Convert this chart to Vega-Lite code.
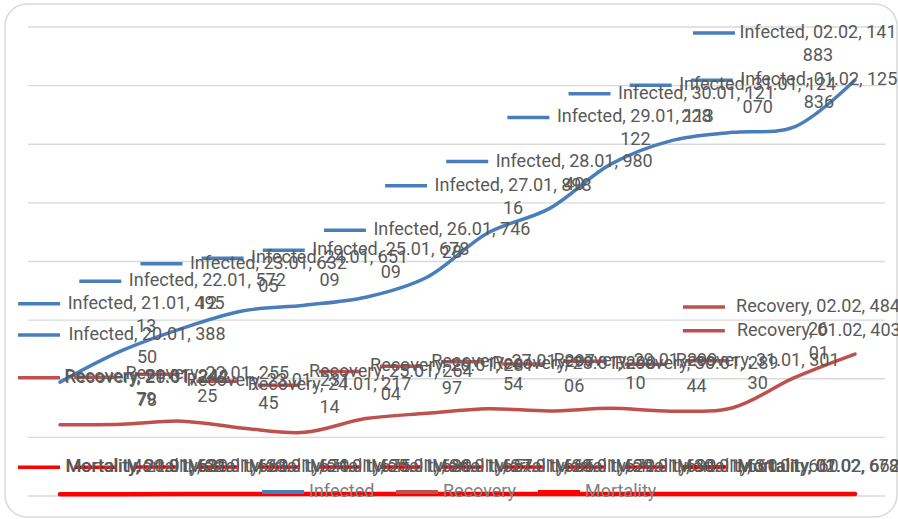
{
  "$schema": "https://vega.github.io/schema/vega-lite/v6.json",
  "width": 892,
  "height": 513,
  "autosize": {"type": "none"},
  "padding": {"left": 5, "top": 4, "right": 1, "bottom": 2},
  "background": "white",
  "config": {
    "view": {"stroke": "#d9d9d9", "strokeWidth": 1.5, "cornerRadius": 22, "fill": "white"},
    "font": "Roboto"
  },
  "datasets": {
    "main": [
      {"s": "Infected", "day": "20.01", "date": "2020-01-20", "v": 38850, "l1": "Infected, 20.01, 388", "l2": "50"},
      {"s": "Infected", "day": "21.01", "date": "2020-01-21", "v": 49513, "l1": "Infected, 21.01, 495", "l2": "13"},
      {"s": "Infected", "day": "22.01", "date": "2020-01-22", "v": 57212, "l1": "Infected, 22.01, 572", "l2": "12"},
      {"s": "Infected", "day": "23.01", "date": "2020-01-23", "v": 63205, "l1": "Infected, 23.01, 632", "l2": "05"},
      {"s": "Infected", "day": "24.01", "date": "2020-01-24", "v": 65109, "l1": "Infected, 24.01, 651", "l2": "09"},
      {"s": "Infected", "day": "25.01", "date": "2020-01-25", "v": 67809, "l1": "Infected, 25.01, 678", "l2": "09"},
      {"s": "Infected", "day": "26.01", "date": "2020-01-26", "v": 74628, "l1": "Infected, 26.01, 746", "l2": "28"},
      {"s": "Infected", "day": "27.01", "date": "2020-01-27", "v": 89816, "l1": "Infected, 27.01, 898", "l2": "16"},
      {"s": "Infected", "day": "28.01", "date": "2020-01-28", "v": 98040, "l1": "Infected, 28.01, 980", "l2": "40"},
      {"s": "Infected", "day": "29.01", "date": "2020-01-29", "v": 113122, "l1": "Infected, 29.01, 113", "l2": "122"},
      {"s": "Infected", "day": "30.01", "date": "2020-01-30", "v": 121228, "l1": "Infected, 30.01, 121", "l2": "228"},
      {"s": "Infected", "day": "31.01", "date": "2020-01-31", "v": 124070, "l1": "Infected, 31.01, 124", "l2": "070"},
      {"s": "Infected", "day": "01.02", "date": "2020-02-01", "v": 125836, "l1": "Infected, 01.02, 125", "l2": "836"},
      {"s": "Infected", "day": "02.02", "date": "2020-02-02", "v": 141883, "l1": "Infected, 02.02, 141", "l2": "883"},
      {"s": "Recovery", "day": "20.01", "date": "2020-01-20", "v": 24278, "l1": "Recovery, 20.01, 242", "l2": "78"},
      {"s": "Recovery", "day": "21.01", "date": "2020-01-21", "v": 24479, "l1": "Recovery, 21.01, 244", "l2": "79"},
      {"s": "Recovery", "day": "22.01", "date": "2020-01-22", "v": 25525, "l1": "Recovery, 22.01, 255", "l2": "25"},
      {"s": "Recovery", "day": "23.01", "date": "2020-01-23", "v": 23145, "l1": "Recovery, 23.01, 231", "l2": "45"},
      {"s": "Recovery", "day": "24.01", "date": "2020-01-24", "v": 21714, "l1": "Recovery, 24.01, 217", "l2": "14"},
      {"s": "Recovery", "day": "25.01", "date": "2020-01-25", "v": 26404, "l1": "Recovery, 25.01, 264", "l2": "04"},
      {"s": "Recovery", "day": "26.01", "date": "2020-01-26", "v": 28197, "l1": "Recovery, 26.01, 281", "l2": "97"},
      {"s": "Recovery", "day": "27.01", "date": "2020-01-27", "v": 29754, "l1": "Recovery, 27.01, 297", "l2": "54"},
      {"s": "Recovery", "day": "28.01", "date": "2020-01-28", "v": 29006, "l1": "Recovery, 28.01, 290", "l2": "06"},
      {"s": "Recovery", "day": "29.01", "date": "2020-01-29", "v": 29910, "l1": "Recovery, 29.01, 299", "l2": "10"},
      {"s": "Recovery", "day": "30.01", "date": "2020-01-30", "v": 28944, "l1": "Recovery, 30.01, 289", "l2": "44"},
      {"s": "Recovery", "day": "31.01", "date": "2020-01-31", "v": 30130, "l1": "Recovery, 31.01, 301", "l2": "30"},
      {"s": "Recovery", "day": "01.02", "date": "2020-02-01", "v": 40301, "l1": "Recovery, 01.02, 403", "l2": "01"},
      {"s": "Recovery", "day": "02.02", "date": "2020-02-02", "v": 48426, "l1": "Recovery, 02.02, 484", "l2": "26"},
      {"s": "Mortality", "day": "20.01", "date": "2020-01-20", "v": 630, "l1": "Mortality, 20.01, 630", "l2": ""},
      {"s": "Mortality", "day": "21.01", "date": "2020-01-21", "v": 631, "l1": "Mortality, 21.01, 631", "l2": ""},
      {"s": "Mortality", "day": "22.01", "date": "2020-01-22", "v": 660, "l1": "Mortality, 22.01, 660", "l2": ""},
      {"s": "Mortality", "day": "23.01", "date": "2020-01-23", "v": 670, "l1": "Mortality, 23.01, 670", "l2": ""},
      {"s": "Mortality", "day": "24.01", "date": "2020-01-24", "v": 675, "l1": "Mortality, 24.01, 675", "l2": ""},
      {"s": "Mortality", "day": "25.01", "date": "2020-01-25", "v": 680, "l1": "Mortality, 25.01, 680", "l2": ""},
      {"s": "Mortality", "day": "26.01", "date": "2020-01-26", "v": 657, "l1": "Mortality, 26.01, 657", "l2": ""},
      {"s": "Mortality", "day": "27.01", "date": "2020-01-27", "v": 665, "l1": "Mortality, 27.01, 665", "l2": ""},
      {"s": "Mortality", "day": "28.01", "date": "2020-01-28", "v": 670, "l1": "Mortality, 28.01, 670", "l2": ""},
      {"s": "Mortality", "day": "29.01", "date": "2020-01-29", "v": 690, "l1": "Mortality, 29.01, 690", "l2": ""},
      {"s": "Mortality", "day": "30.01", "date": "2020-01-30", "v": 660, "l1": "Mortality, 30.01, 660", "l2": ""},
      {"s": "Mortality", "day": "31.01", "date": "2020-01-31", "v": 660, "l1": "Mortality, 31.01, 660", "l2": ""},
      {"s": "Mortality", "day": "01.02", "date": "2020-02-01", "v": 662, "l1": "Mortality, 01.02, 662", "l2": ""},
      {"s": "Mortality", "day": "02.02", "date": "2020-02-02", "v": 678, "l1": "Mortality, 02.02, 678", "l2": ""}
    ],
    "grid": [
      {"g": 0}, {"g": 20000}, {"g": 40000}, {"g": 60000}, {"g": 80000},
      {"g": 100000}, {"g": 120000}, {"g": 140000}, {"g": 160000}
    ]
  },
  "data": {"name": "main"},
  "layer": [
    {
      "data": {"name": "grid"},
      "mark": {"type": "rule", "color": "#d9d9d9", "strokeWidth": 1.3},
      "encoding": {
        "y": {"field": "g", "type": "quantitative", "axis": null,
              "scale": {"domain": [-7164, 167846], "nice": false, "zero": false}},
        "x": {"datum": {"year": 2020, "month": 1, "date": 19, "hours": 11, "minutes": 26, "utc": true}, "type": "temporal", "axis": null,
              "scale": {"type": "utc", "nice": false, "domain": [
                {"year": 2020, "month": 1, "date": 19, "hours": 2, "minutes": 25, "utc": true},
                {"year": 2020, "month": 2, "date": 2, "hours": 16, "minutes": 29, "utc": true}]}},
        "x2": {"datum": {"year": 2020, "month": 2, "date": 2, "hours": 11, "minutes": 46, "utc": true}}
      }
    },
    {
      "transform": [{"filter": "datum.s !== 'Mortality'"}],
      "mark": {"type": "line", "interpolate": "catmull-rom", "strokeCap": "round", "strokeWidth": 3.5},
      "encoding": {
        "x": {"field": "date", "type": "temporal", "axis": null,
              "scale": {"type": "utc", "nice": false, "domain": [
                {"year": 2020, "month": 1, "date": 19, "hours": 2, "minutes": 25, "utc": true},
                {"year": 2020, "month": 2, "date": 2, "hours": 16, "minutes": 29, "utc": true}]}},
        "y": {"field": "v", "type": "quantitative", "axis": null,
              "scale": {"domain": [-7164, 167846], "nice": false, "zero": false}},
        "color": {"field": "s", "type": "nominal",
                  "scale": {"domain": ["Infected", "Recovery", "Mortality"], "range": ["#4a7ebb", "#c0504d", "#ff0000"]},
                  "legend": {"title": null, "orient": "none", "legendX": 255, "legendY": 465, "direction": "horizontal",
                             "symbolType": "stroke", "symbolSize": 1764, "symbolStrokeWidth": 4,
                             "labelFontSize": 18, "labelFont": "Roboto", "labelColor": "#808080", "labelOffset": 3,
                             "columnPadding": 13}}
      }
    },
    {
      "transform": [{"filter": "datum.s === 'Mortality'"}],
      "mark": {"type": "line", "interpolate": "catmull-rom", "strokeCap": "round", "strokeWidth": 4.5},
      "encoding": {
        "x": {"field": "date", "type": "temporal"},
        "y": {"field": "v", "type": "quantitative"},
        "color": {"field": "s", "type": "nominal"}
      }
    },
    {
      "mark": {"type": "rule", "strokeWidth": 3.5, "strokeCap": "butt",
               "xOffset": {"expr": "datum.s === 'Infected' ? (datum.day === '20.01' ? -42 : datum.day === '02.02' ? -162 : -103) : (datum.day === '20.01' ? -42 : datum.day === '01.02' ? -111 : datum.day === '02.02' ? -172 : -47)"},
               "x2Offset": {"expr": "datum.s === 'Infected' ? (datum.day === '20.01' ? 0 : datum.day === '02.02' ? -120 : -61) : (datum.day === '20.01' ? 0 : datum.day === '01.02' ? -69 : datum.day === '02.02' ? -130 : -5)"},
               "yOffset": {"expr": "datum.s === 'Mortality' ? -27 : -47"}},
      "encoding": {
        "x": {"field": "date", "type": "temporal"},
        "x2": {"field": "date"},
        "y": {"field": "v", "type": "quantitative"},
        "color": {"field": "s", "type": "nominal"}
      }
    },
    {
      "mark": {"type": "text", "fontSize": 18, "font": "Roboto", "color": "#595959", "align": "center", "baseline": "middle",
               "dx": {"expr": "datum.day === '20.01' ? 87 : datum.day === '02.02' ? -37 : 25"},
               "dy": {"expr": "datum.s === 'Mortality' ? -27 : -47"}},
      "encoding": {
        "x": {"field": "date", "type": "temporal"},
        "y": {"field": "v", "type": "quantitative"},
        "text": {"field": "l1"}
      }
    },
    {
      "mark": {"type": "text", "fontSize": 18, "font": "Roboto", "color": "#595959", "align": "center", "baseline": "middle",
               "dx": {"expr": "datum.day === '20.01' ? 87 : datum.day === '02.02' ? -37 : 25"},
               "dy": -24},
      "encoding": {
        "x": {"field": "date", "type": "temporal"},
        "y": {"field": "v", "type": "quantitative"},
        "text": {"field": "l2"}
      }
    }
  ]
}
